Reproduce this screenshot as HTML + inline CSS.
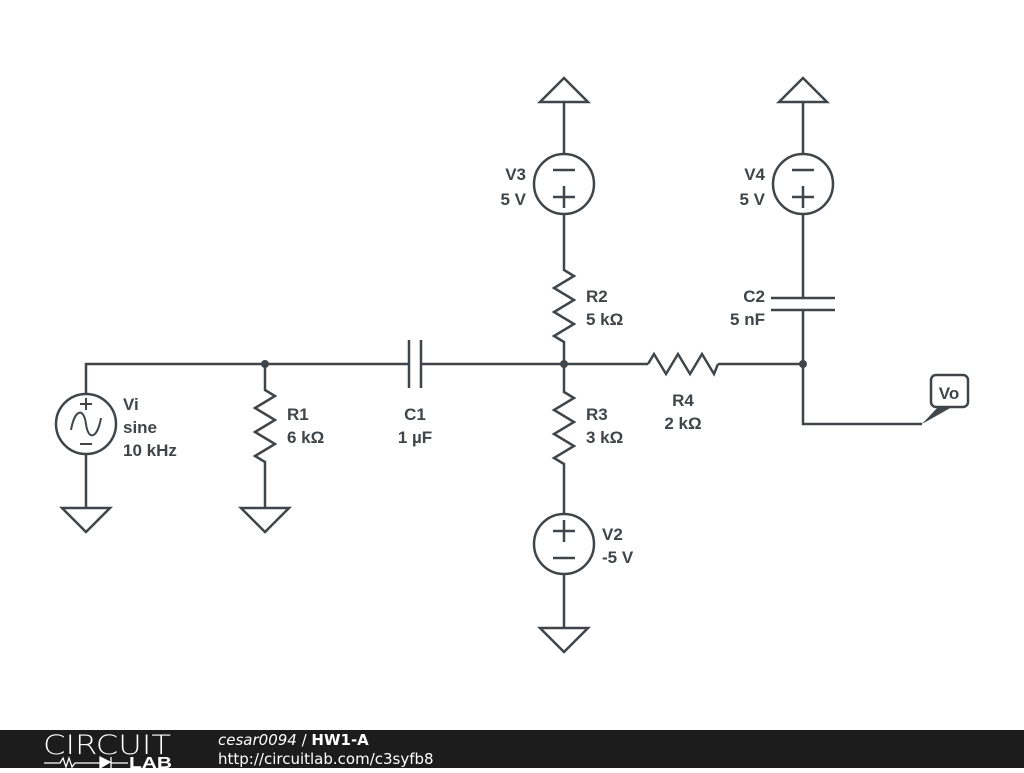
<!DOCTYPE html>
<html><head><style>
body{margin:0;width:1024px;height:768px;background:#fff;overflow:hidden;font-family:"Liberation Sans",sans-serif}
</style></head><body>
<svg width="1024" height="768" viewBox="0 0 1024 768" xmlns="http://www.w3.org/2000/svg">
<g stroke="#40454a" stroke-width="2.5" fill="none" stroke-linejoin="miter">
<path d="M86 394 V364 H409 M421 364 H648 M718 364 H803 V424 H922"/>
<circle cx="86" cy="424" r="30"/>
<path d="M86 454 V508 M62 508 H110 L86 532 Z"/>
<path d="M71 430 C75 408 84 408 86 424 C88 440 97 440 101 418" stroke-width="2"/>
<path d="M80 404 H92 M86 398 V410 M80 444 H92" stroke-width="2"/>
<path d="M265 364 V390 L275 396 L255 408 L275 420 L255 432 L275 444 L255 456 L265 462 V508 M241 508 H289 L265 532 Z"/>
<path d="M409 340 V388 M421 340 V388"/>
<path d="M540 102 H588 L564 78 Z M564 102 V154"/>
<circle cx="564" cy="184" r="30"/>
<path d="M553 170 H575 M553 197 H575 M564 186 V208" stroke-width="2.5"/>
<path d="M564 214 V270 L574 276 L554 288 L574 300 L554 312 L574 324 L554 336 L564 342 V364"/>
<path d="M564 364 V392 L574 398 L554 410 L574 422 L554 434 L574 446 L554 458 L564 464 V514"/>
<circle cx="564" cy="544" r="30"/>
<path d="M553 531 H575 M564 520 V542 M553 558 H575" stroke-width="2.5"/>
<path d="M564 574 V628 M540 628 H588 L564 652 Z"/>
<path d="M648 364 L654 354 L666 374 L678 354 L690 374 L702 354 L714 374 L718 364"/>
<path d="M779 102 H827 L803 78 Z M803 102 V154"/>
<circle cx="803" cy="184" r="30"/>
<path d="M792 170 H814 M792 197 H814 M803 186 V208" stroke-width="2.5"/>
<path d="M803 214 V298 M771 298 H835 M771 310 H835 M803 310 V364"/>
<rect x="931" y="375" width="37" height="32" rx="5"/>
</g>
<path d="M922 424 L938 407 H952 Z" fill="#40454a"/>
<circle cx="265" cy="364" r="4" fill="#40454a"/>
<circle cx="564" cy="364" r="4" fill="#40454a"/>
<circle cx="803" cy="364" r="4" fill="#40454a"/>
<g font-family="Liberation Sans, sans-serif" font-weight="bold" font-size="17" fill="#40454a">
<text x="123" y="410">Vi</text><text x="123" y="433">sine</text><text x="123" y="456">10 kHz</text>
<text x="287" y="420">R1</text><text x="287" y="443">6 kΩ</text>
<text x="415" y="420" text-anchor="middle">C1</text><text x="415" y="443" text-anchor="middle">1 µF</text>
<text x="526" y="180" text-anchor="end">V3</text><text x="526" y="205" text-anchor="end">5 V</text>
<text x="586" y="302">R2</text><text x="586" y="325">5 kΩ</text>
<text x="586" y="420">R3</text><text x="586" y="443">3 kΩ</text>
<text x="602" y="540">V2</text><text x="602" y="563">-5 V</text>
<text x="683" y="406" text-anchor="middle">R4</text><text x="683" y="429" text-anchor="middle">2 kΩ</text>
<text x="765" y="180" text-anchor="end">V4</text><text x="765" y="205" text-anchor="end">5 V</text>
<text x="765" y="302" text-anchor="end">C2</text><text x="765" y="325" text-anchor="end">5 nF</text>
<text x="949" y="399" text-anchor="middle">Vo</text>
</g>
<rect x="0" y="730" width="1024" height="38" fill="#1c1c1c"/>
<text x="43" y="754" font-size="27" fill="#fff" font-family="DejaVu Sans, sans-serif" font-weight="200" textLength="128" lengthAdjust="spacingAndGlyphs">CIRCUIT</text>
<path d="M44 763 H60 L63 758 L66 767 L69 758 L72 767 L75 763 H100" stroke="#fff" stroke-width="1.3" fill="none"/>
<path d="M100 757 V768 L110 762 Z M111 757 V768 M111 763 H128" fill="#fff" stroke="#fff" stroke-width="1.3"/>
<text x="129" y="768" font-size="16" font-weight="bold" fill="#fff" font-family="Liberation Sans, sans-serif" textLength="43" lengthAdjust="spacingAndGlyphs">LAB</text>
<text x="218" y="745" font-size="15" fill="#fff" font-family="DejaVu Sans, sans-serif"><tspan font-style="italic">cesar0094</tspan> / <tspan font-weight="bold">HW1-A</tspan></text>
<text x="218" y="764" font-size="15" fill="#fff" font-family="DejaVu Sans, sans-serif">http://circuitlab.com/c3syfb8</text>
</svg>
</body></html>
